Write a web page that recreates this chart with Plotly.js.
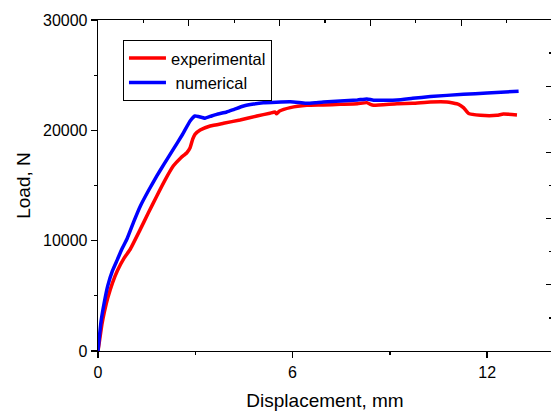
<!DOCTYPE html>
<html>
<head>
<meta charset="utf-8">
<script src="https://cdn.plot.ly/plotly-3.0.1.min.js"></script>
<style>html,body{margin:0;padding:0;overflow:hidden;background:#fff;}#chart{width:553px;height:411px;}</style>
</head>
<body>
<div id="chart"></div>
<script>
// Numerical (blue) curve
const numX = [0,0.05,0.1,0.2,0.3,0.45,0.6,0.73,0.9,1.1,1.3,1.55,1.81,2.05,2.32,2.6,2.84,2.99,3.1,3.3,3.5,3.66,3.97,4.2,4.49,4.8,5.1,5.5,5.93,6.2,6.44,6.7,6.95,7.47,8.0,8.29,8.5,9.22,9.7,10.25,11.27,12.0,12.97];
const numY = [0,1500,2800,4500,5900,7300,8300,9200,10200,11700,13100,14500,15850,17000,18270,19600,20850,21300,21250,21100,21300,21450,21660,21900,22200,22380,22500,22550,22580,22520,22450,22500,22570,22650,22750,22850,22730,22750,22900,23060,23270,23380,23550];
// Experimental (red) curve
const expX = [0,0.05,0.12,0.2,0.3,0.45,0.6,0.8,0.99,1.3,1.55,1.81,2.05,2.32,2.55,2.74,2.84,2.92,2.99,3.15,3.46,3.87,4.38,4.9,5.3,5.46,5.5,5.6,5.93,6.44,6.95,7.47,8.0,8.29,8.4,8.5,9.22,9.7,10.25,10.76,11.12,11.27,11.43,11.79,12.3,12.5,12.92];
const expY = [0,1000,2400,3600,4800,6200,7300,8400,9200,11000,12500,14030,15400,16760,17500,17970,18420,19200,19640,20030,20390,20640,20940,21300,21550,21660,21500,21750,22060,22270,22300,22360,22420,22510,22350,22270,22420,22450,22570,22570,22360,22060,21520,21360,21360,21480,21400];
const xTicks = [0,6,12];
const yTicks = [0,10000,20000,30000];
const seriesNames = ["experimental", "\u00a0numerical"];

const FONT = "Liberation Sans, Arial, sans-serif";
const traces = [
  {x: expX, y: expY, name: seriesNames[0], type: "scatter", mode: "lines",
   line: {color: "#ff0000", width: 3.5, shape: "spline", smoothing: 0.4}},
  {x: numX, y: numY, name: seriesNames[1], type: "scatter", mode: "lines",
   line: {color: "#0000ff", width: 3.5, shape: "spline", smoothing: 0.4}},
  {x: [0], y: [0], xaxis: "x2", yaxis: "y2", mode: "markers", marker: {opacity: 0},
   showlegend: false, hoverinfo: "skip"}
];

const layout = {
  width: 553, height: 411,
  margin: {l: 98, r: 1, t: 20, b: 60},
  paper_bgcolor: "#fff", plot_bgcolor: "#fff",
  font: {family: FONT, size: 16, color: "#000"},
  showlegend: true,
  legend: {x: 0.055, y: 0.94, xanchor: "left", yanchor: "top",
           bordercolor: "#000", borderwidth: 1, bgcolor: "#fff",
           font: {family: FONT, size: 16.5, color: "#000"}, itemwidth: 37, tracegroupgap: 0},
  xaxis: {range: [0, 14], tickvals: xTicks, ticktext: xTicks.map(String),
          ticks: "outside", ticklen: 6, tickwidth: 1.3, tickcolor: "#000",
          minor: {dtick: 3, ticks: "outside", ticklen: 3, tickwidth: 1.3, tickcolor: "#000"},
          showline: true, linecolor: "#000", linewidth: 1.3, showgrid: false, zeroline: false,
          tickfont: {size: 16},
          title: {text: "Displacement, mm", font: {size: 19}, standoff: 14}},
  yaxis: {range: [0, 30000], tickvals: yTicks, ticktext: yTicks.map(String),
          ticks: "outside", ticklen: 6, tickwidth: 1.3, tickcolor: "#000",
          minor: {dtick: 5000, ticks: "outside", ticklen: 3, tickwidth: 1.3, tickcolor: "#000"},
          showline: true, linecolor: "#000", linewidth: 1.3, showgrid: false, zeroline: false,
          tickfont: {size: 16},
          title: {text: "Load, N", font: {size: 19}, standoff: 7}},
  xaxis2: {overlaying: "x", side: "top", range: [0, 10], dtick: 2, tick0: 0,
           ticks: "inside", ticklen: 6, tickwidth: 1.3, tickcolor: "#000",
           minor: {dtick: 1, ticks: "inside", ticklen: 3, tickwidth: 1.3, tickcolor: "#000"},
           showticklabels: false, showline: true, linecolor: "#000", linewidth: 1.3,
           showgrid: false, zeroline: false},
  yaxis2: {overlaying: "y", side: "right", range: [0, 10], dtick: 2, tick0: 0,
           ticks: "inside", ticklen: 6, tickwidth: 1.3, tickcolor: "#000",
           minor: {dtick: 1, ticks: "inside", ticklen: 3, tickwidth: 1.3, tickcolor: "#000"},
           showticklabels: false, showline: true, linecolor: "#000", linewidth: 1.3,
           showgrid: false, zeroline: false}
};

Plotly.newPlot("chart", traces, layout, {displayModeBar: false, staticPlot: true});
</script>
</body>
</html>
